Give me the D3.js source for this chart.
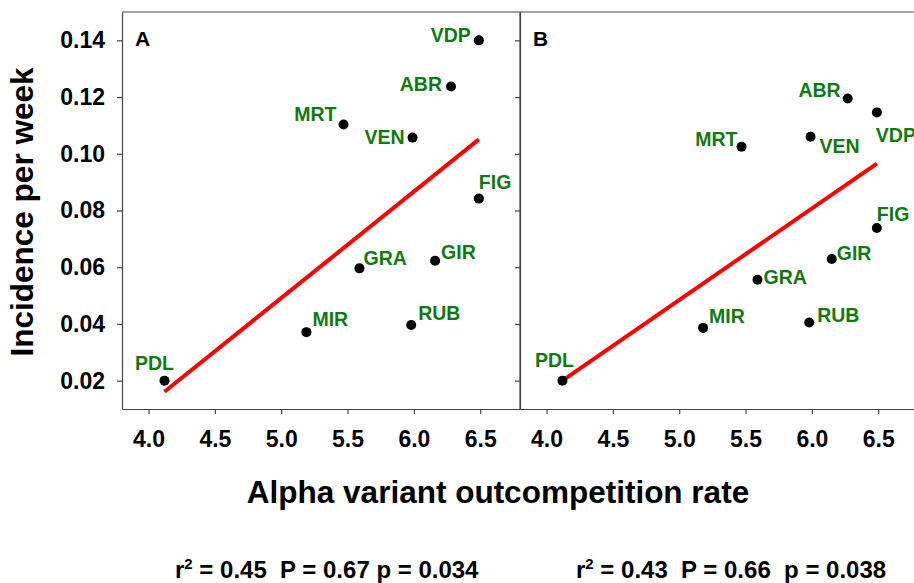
<!DOCTYPE html>
<html>
<head>
<meta charset="utf-8">
<script src="https://cdn.jsdelivr.net/npm/d3@7"></script>
<style>
  body { margin: 0; background: #fff; }
  svg { display: block; font-family: "Liberation Sans", Arial, sans-serif; font-weight: bold; }
  .axis path, .axis line { stroke: #444; stroke-width: 1.2; }
  .axis text { font-size: 23px; font-weight: bold; fill: #000; font-family: "Liberation Sans", Arial, sans-serif; }
  .site { fill: #107a10; font-size: 19.5px; }
  .stats { white-space: pre; }
</style>
</head>
<body>
<svg id="canvas" width="914" height="583"></svg>
<script>

// data
var sites = ["VDP", "ABR", "MRT", "VEN", "FIG", "GRA", "GIR", "MIR", "RUB", "PDL"];

var rateA = [6.49, 6.28, 5.47, 5.99, 6.49, 5.59, 6.16, 5.19, 5.98, 4.12];
var incidenceA = [0.140, 0.1237, 0.1103, 0.1057, 0.0842, 0.0596, 0.0623, 0.0371, 0.0396, 0.0200];

var rateB = [6.49, 6.27, 5.47, 5.99, 6.49, 5.59, 6.15, 5.18, 5.98, 4.12];
var incidenceB = [0.1146, 0.1195, 0.1025, 0.106, 0.0738, 0.0556, 0.0629, 0.0386, 0.0405, 0.0200];

var xTicks = [4.0, 4.5, 5.0, 5.5, 6.0, 6.5];
var yTicks = [0.02, 0.04, 0.06, 0.08, 0.10, 0.12, 0.14];

var panelLetters = ["A", "B"];
var statsA = ["0.45", "0.67", "0.034"];
var statsB = ["0.43", "0.66", "0.038"];

// where each site label sits relative to its dot (anchor, dx, dy)
var labelPosA = {
    VDP: ["end", -8, 2], ABR: ["end", -9, 4], MRT: ["end", -7, -4], VEN: ["end", -8, 6],
    FIG: ["start", 0, -10], GRA: ["start", 4, -3], GIR: ["start", 6, -2], MIR: ["start", 6, -6],
    RUB: ["start", 7, -5], PDL: ["middle", -10, -11]
};
var labelPosB = {
    VDP: ["start", -1, 30], ABR: ["end", -7, -1], MRT: ["end", -4, -1], VEN: ["start", 9, 16],
    FIG: ["start", 0, -7], GRA: ["start", 6, 4], GIR: ["start", 5, 1], MIR: ["start", 6, -5],
    RUB: ["start", 8, -1], PDL: ["middle", -8, -14]
};

var svg = d3.select("#canvas");

var plotTop = 12, plotBottom = 409;
var panelW = 398;
var panelLeft = [122, 520];

var y = d3.scaleLinear().domain([0.01, 0.15]).range([plotBottom, plotTop]);

function fitLine(xs, ys){
    var mx = d3.mean(xs), my = d3.mean(ys);
    var sxy = 0, sxx = 0;
    for (var i = 0; i < xs.length; i++){
        sxy += (xs[i] - mx) * (ys[i] - my);
        sxx += (xs[i] - mx) * (xs[i] - mx);
    }
    var slope = sxy / sxx;
    return {slope: slope, icpt: my - slope * mx};
}

function drawPanel(idx, xs, ys, labelPos, showYLabels){
    var left = panelLeft[idx];
    var x = d3.scaleLinear().domain([3.8, 6.8]).range([left, left + panelW]);
    var g = svg.append("g");

    // frame top / right
    g.append("line").attr("x1", left).attr("x2", left + panelW)
        .attr("y1", plotTop).attr("y2", plotTop).attr("stroke", "#444").attr("stroke-width", 1.2);
    g.append("line").attr("x1", left + panelW).attr("x2", left + panelW)
        .attr("y1", plotTop).attr("y2", plotBottom).attr("stroke", "#444").attr("stroke-width", 1.2);

    var yAxis = d3.axisLeft(y).tickValues(yTicks).tickSize(5).tickSizeOuter(0).tickPadding(12)
        .tickFormat(showYLabels ? d3.format(".2f") : "");
    g.append("g").attr("class", "axis").attr("transform", "translate(" + left + ",0)").call(yAxis);

    var xAxis = d3.axisBottom(x).tickValues(xTicks).tickSize(5).tickSizeOuter(0).tickPadding(17)
        .tickFormat(d3.format(".1f"));
    g.append("g").attr("class", "axis").attr("transform", "translate(0," + plotBottom + ")").call(xAxis);

    // regression line across the data range
    var fit = fitLine(xs, ys);
    var x0 = d3.min(xs), x1 = d3.max(xs);
    g.append("line")
        .attr("x1", x(x0)).attr("y1", y(fit.icpt + fit.slope * x0))
        .attr("x2", x(x1)).attr("y2", y(fit.icpt + fit.slope * x1))
        .attr("stroke", "#f00").attr("stroke-width", 4);

    for (var i = 0; i < sites.length; i++){
        var px = x(xs[i]), py = y(ys[i]);
        g.append("circle").attr("cx", px).attr("cy", py).attr("r", 5).attr("fill", "#000");
        var p = labelPos[sites[i]];
        g.append("text").attr("class", "site")
            .attr("x", px + p[1]).attr("y", py + p[2])
            .attr("text-anchor", p[0])
            .text(sites[i]);
    }

    g.append("text").attr("x", left + 13).attr("y", 46)
        .attr("font-size", "21px").attr("fill", "#000").text(panelLetters[idx]);
}

drawPanel(0, rateA, incidenceA, labelPosA, true);
drawPanel(1, rateB, incidenceB, labelPosB, false);

// axis titles
svg.append("text")
    .attr("transform", "translate(33,212) rotate(-90)")
    .attr("text-anchor", "middle").attr("font-size", "31.5px").attr("fill", "#000")
    .text("Incidence per week");

svg.append("text")
    .attr("x", 498).attr("y", 503)
    .attr("text-anchor", "middle").attr("font-size", "31.5px").attr("fill", "#000")
    .text("Alpha variant outcompetition rate");

// stats under each panel
function addStats(xpos, s, gap){
    var t = svg.append("text").attr("class", "stats").attr("x", xpos).attr("y", 578)
        .attr("font-size", "24px").attr("fill", "#000");
    t.append("tspan").text("r");
    t.append("tspan").attr("dy", -9).attr("font-size", "15px").text("2");
    t.append("tspan").attr("dy", 9).text(" = " + s[0] + "  P = " + s[1] + gap + "p = " + s[2]);
}
addStats(175, statsA, " ");
addStats(576, statsB, "  ");

</script>
</body>
</html>
